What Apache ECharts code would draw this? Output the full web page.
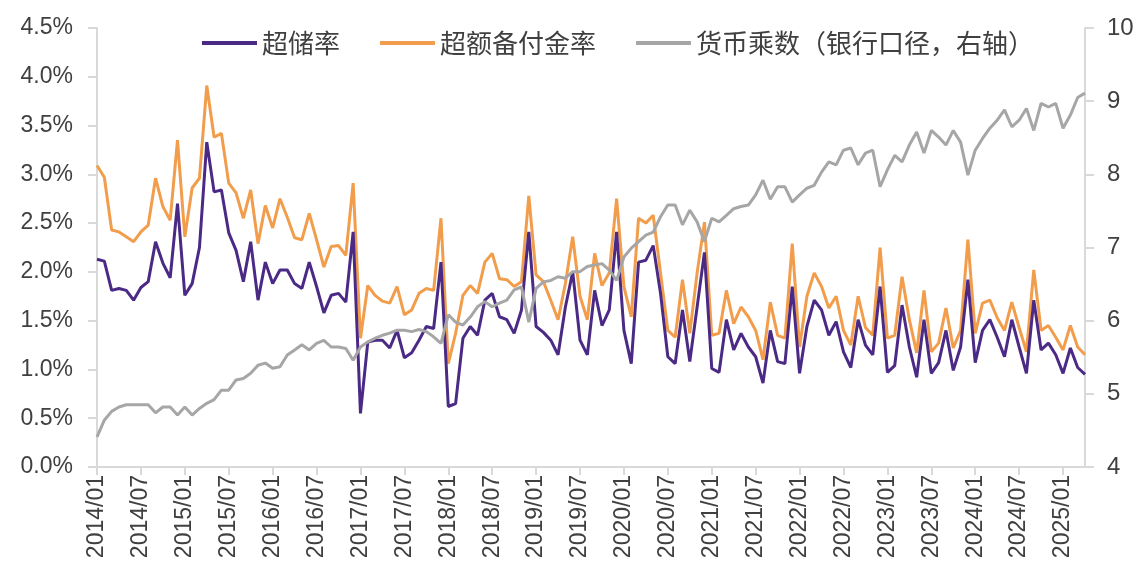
<!DOCTYPE html>
<html>
<head>
<meta charset="utf-8">
<script src="https://cdn.jsdelivr.net/npm/echarts@6/dist/echarts.min.js"></script>
<style>
  html, body { margin: 0; padding: 0; background: #fff; }
  #main { width: 1146px; height: 585px; }
</style>
</head>
<body>
<div id="main"></div>
<script>
// months 2014/01 .. 2025/04
var months = [];
for (var y = 2014; y <= 2025; y++) {
  for (var m = 1; m <= 12; m++) {
    if (y == 2025 && m > 4) break;
    months.push(y + '/' + (m < 10 ? '0' + m : m));
  }
}

// 超储率 (%)
var excessReserve = [
  2.13, 2.11, 1.81, 1.83, 1.81, 1.71, 1.84, 1.90, 2.31, 2.09, 1.94, 2.70,
  1.76, 1.88, 2.25, 3.33, 2.82, 2.84, 2.40, 2.22, 1.90, 2.31, 1.71, 2.10,
  1.88, 2.02, 2.02, 1.88, 1.83, 2.10, 1.85, 1.58, 1.76, 1.78, 1.69, 2.41,
  0.55, 1.28, 1.30, 1.30, 1.22, 1.40, 1.12, 1.17, 1.30, 1.44, 1.42, 2.10,
  0.62, 0.65, 1.32, 1.44, 1.35, 1.71, 1.78, 1.54, 1.51, 1.37, 1.61, 2.41,
  1.44, 1.38, 1.30, 1.15, 1.64, 2.00, 1.30, 1.15, 1.81, 1.45, 1.61, 2.41,
  1.40, 1.06, 2.10, 2.12, 2.27, 1.78, 1.13, 1.06, 1.61, 1.08, 1.64, 2.20,
  1.01, 0.97, 1.51, 1.20, 1.37, 1.23, 1.13, 0.86, 1.40, 1.08, 1.06, 1.85,
  0.96, 1.44, 1.71, 1.61, 1.35, 1.49, 1.18, 1.02, 1.51, 1.25, 1.15, 1.85,
  0.97, 1.04, 1.66, 1.23, 0.92, 1.51, 0.96, 1.07, 1.40, 0.99, 1.23, 1.92,
  1.07, 1.40, 1.51, 1.33, 1.13, 1.51, 1.23, 0.96, 1.71, 1.20, 1.27, 1.15,
  0.96, 1.22, 1.02, 0.95
];

// 超额备付金率 (%)
var excessDeposit = [
  3.09, 2.97, 2.43, 2.41, 2.36, 2.31, 2.41, 2.48, 2.96, 2.67, 2.53, 3.35,
  2.36, 2.86, 2.96, 3.91, 3.38, 3.42, 2.91, 2.81, 2.55, 2.84, 2.29, 2.68,
  2.45, 2.75, 2.56, 2.35, 2.33, 2.60, 2.33, 2.05, 2.26, 2.27, 2.17, 2.91,
  1.32, 1.86, 1.76, 1.70, 1.68, 1.85, 1.56, 1.61, 1.78, 1.83, 1.81, 2.55,
  1.06, 1.37, 1.76, 1.86, 1.78, 2.10, 2.19, 1.93, 1.92, 1.85, 1.90, 2.78,
  1.97, 1.90, 1.71, 1.51, 1.88, 2.36, 1.75, 1.51, 2.19, 1.86, 1.99, 2.75,
  1.85, 1.54, 2.55, 2.50, 2.58, 1.99, 1.40, 1.33, 1.92, 1.37, 1.99, 2.51,
  1.35, 1.37, 1.81, 1.47, 1.64, 1.54, 1.40, 1.10, 1.69, 1.35, 1.32, 2.29,
  1.23, 1.75, 1.99, 1.85, 1.63, 1.75, 1.40, 1.25, 1.75, 1.43, 1.35, 2.25,
  1.32, 1.35, 1.95, 1.51, 1.17, 1.81, 1.18, 1.27, 1.63, 1.22, 1.40, 2.33,
  1.37, 1.68, 1.71, 1.53, 1.40, 1.69, 1.43, 1.18, 2.02, 1.40, 1.45, 1.33,
  1.20, 1.45, 1.23, 1.15
];

// 货币乘数（银行口径，右轴）
var multiplier = [
  4.41, 4.64, 4.76, 4.82, 4.85, 4.85, 4.85, 4.85, 4.74, 4.82, 4.82, 4.71,
  4.82, 4.71, 4.80, 4.87, 4.92, 5.05, 5.05, 5.19, 5.21, 5.28, 5.39, 5.42,
  5.35, 5.37, 5.53, 5.60, 5.67, 5.60, 5.69, 5.73, 5.64, 5.64, 5.62, 5.46,
  5.64, 5.71, 5.76, 5.80, 5.83, 5.87, 5.87, 5.85, 5.88, 5.85, 5.78, 5.69,
  6.08, 5.98, 5.94, 6.05, 6.19, 6.26, 6.19, 6.24, 6.28, 6.42, 6.46, 5.98,
  6.44, 6.53, 6.55, 6.60, 6.58, 6.67, 6.67, 6.74, 6.76, 6.78, 6.69, 6.55,
  6.87, 6.99, 7.08, 7.17, 7.21, 7.42, 7.58, 7.58, 7.31, 7.51, 7.35, 7.08,
  7.40, 7.35, 7.44, 7.53, 7.56, 7.58, 7.72, 7.92, 7.66, 7.83, 7.83, 7.62,
  7.72, 7.81, 7.85, 8.03, 8.17, 8.13, 8.33, 8.36, 8.13, 8.29, 8.33, 7.83,
  8.06, 8.26, 8.17, 8.40, 8.58, 8.29, 8.60, 8.51, 8.40, 8.60, 8.44, 7.99,
  8.33, 8.49, 8.63, 8.74, 8.88, 8.65, 8.74, 8.90, 8.60, 8.97, 8.92, 8.97,
  8.63, 8.81, 9.05, 9.11
];

var axisColor = '#d9d9d9';
var labelColor = '#404040';

var option = {
  animation: false,
  backgroundColor: '#fff',
  textStyle: { fontFamily: 'Liberation Sans, Noto Sans CJK SC' },
  grid: { left: 97, right: 61, top: 28, bottom: 118 },
  legend: {
    top: 25,
    left: 197,
    itemWidth: 55,
    itemHeight: 4,
    itemGap: 40,
    icon: 'rect',
    textStyle: { fontSize: 26, color: labelColor, fontFamily: 'Noto Sans CJK SC' },
    data: ['超储率', '超额备付金率', '货币乘数（银行口径，右轴）']
  },
  xAxis: {
    type: 'category',
    data: months,
    boundaryGap: false,
    axisLine: { lineStyle: { color: axisColor, width: 2 } },
    axisTick: { interval: 5, length: 8, lineStyle: { color: axisColor, width: 2 } },
    axisLabel: { interval: 5, rotate: 90, fontSize: 23, color: labelColor, margin: 8 },
    splitLine: { show: false }
  },
  yAxis: [
    {
      type: 'value', min: 0, max: 4.5, interval: 0.5,
      axisLine: { show: true, lineStyle: { color: axisColor, width: 2 } },
      axisTick: { show: true, length: 9, lineStyle: { color: axisColor, width: 2 } },
      axisLabel: {
        fontSize: 23, color: labelColor, margin: 24,
        formatter: function (v) { return v.toFixed(1) + '%'; }
      },
      splitLine: { show: false }
    },
    {
      type: 'value', min: 4, max: 10, interval: 1,
      axisLine: { show: true, lineStyle: { color: axisColor, width: 2 } },
      axisTick: { show: true, length: 9, lineStyle: { color: axisColor, width: 2 } },
      axisLabel: { fontSize: 24, color: labelColor, margin: 22 },
      splitLine: { show: false }
    }
  ],
  series: [
    {
      name: '超储率', type: 'line', data: excessReserve, yAxisIndex: 0,
      symbol: 'none', z: 3,
      lineStyle: { color: '#4b2a86', width: 3 }, itemStyle: { color: '#4b2a86' }
    },
    {
      name: '超额备付金率', type: 'line', data: excessDeposit, yAxisIndex: 0,
      symbol: 'none', z: 2,
      lineStyle: { color: '#f29d4b', width: 3 }, itemStyle: { color: '#f29d4b' }
    },
    {
      name: '货币乘数（银行口径，右轴）', type: 'line', data: multiplier, yAxisIndex: 1,
      symbol: 'none', z: 4,
      lineStyle: { color: '#a6a6a6', width: 3 }, itemStyle: { color: '#a6a6a6' }
    }
  ]
};

var chart = echarts.init(document.getElementById('main'));
chart.setOption(option);
</script>
</body>
</html>
